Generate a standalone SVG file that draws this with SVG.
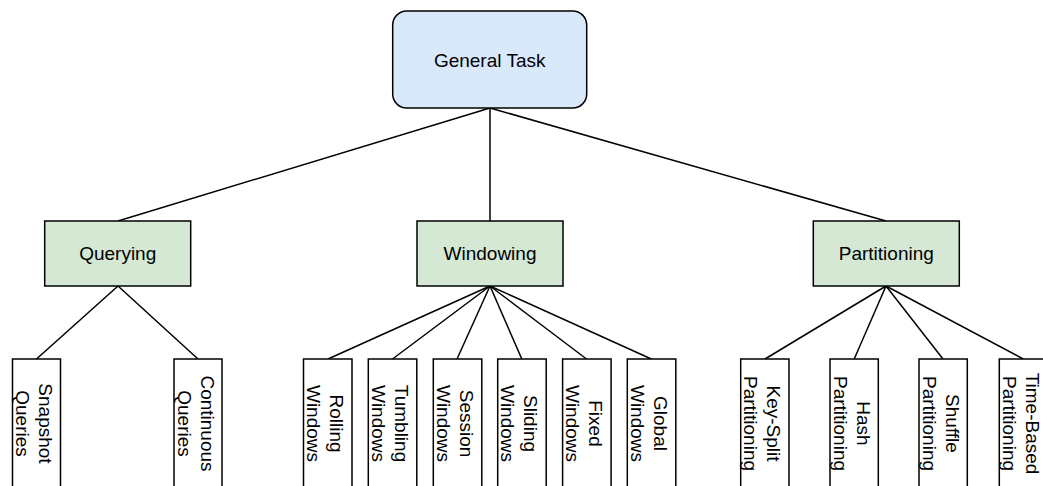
<svg xmlns="http://www.w3.org/2000/svg" width="1043" height="486" viewBox="0 0 1043 486">
  <style>
    text { font-family: "Liberation Sans", Arial, Helvetica, sans-serif; font-size: 19px; fill: #000; text-anchor: middle; }
    .root { fill: #dae8fc; stroke: #000; stroke-width: 1.5; }
    .cat { fill: #d5e8d4; stroke: #000; stroke-width: 1.5; }
    .leaf { fill: #fff; stroke: #000; stroke-width: 1.5; }
    .edge { stroke: #000; stroke-width: 1.5; fill: none; }
  </style>

  <!-- connectors -->
  <g id="connectors">
    <line class="edge" x1="490" y1="108" x2="118" y2="221"/>
    <line class="edge" x1="490" y1="108" x2="490" y2="221"/>
    <line class="edge" x1="490" y1="108" x2="886" y2="221"/>

    <line class="edge" x1="118" y1="286" x2="36.5" y2="359"/>
    <line class="edge" x1="118" y1="286" x2="198" y2="359"/>

    <line class="edge" x1="490" y1="286" x2="328" y2="359"/>
    <line class="edge" x1="490" y1="286" x2="392.5" y2="359"/>
    <line class="edge" x1="490" y1="286" x2="457" y2="359"/>
    <line class="edge" x1="490" y1="286" x2="521.8" y2="359"/>
    <line class="edge" x1="490" y1="286" x2="586.5" y2="359"/>
    <line class="edge" x1="490" y1="286" x2="651.3" y2="359"/>

    <line class="edge" x1="886" y1="286" x2="765" y2="359"/>
    <line class="edge" x1="886" y1="286" x2="854.2" y2="359"/>
    <line class="edge" x1="886" y1="286" x2="943" y2="359"/>
    <line class="edge" x1="886" y1="286" x2="1023.3" y2="359"/>
  </g>

  <!-- root -->
  <g id="general-task">
    <rect class="root" x="392.7" y="11" width="194" height="97" rx="14" ry="14"/>
    <text x="489.7" y="66.5">General Task</text>
  </g>

  <!-- categories -->
  <g id="querying">
    <rect class="cat" x="44.7" y="221" width="146" height="65"/>
    <text x="117.7" y="260">Querying</text>
  </g>
  <g id="windowing">
    <rect class="cat" x="417" y="221" width="146" height="65"/>
    <text x="490" y="260">Windowing</text>
  </g>
  <g id="partitioning">
    <rect class="cat" x="813.3" y="221" width="146" height="65"/>
    <text x="886.3" y="260">Partitioning</text>
  </g>

  <!-- querying leaves -->
  <g id="snapshot-queries">
    <rect class="leaf" x="12.5" y="359" width="48" height="130"/>
    <text transform="translate(36.5 423.5) rotate(90)"><tspan x="0" y="-2.5">Snapshot</tspan><tspan x="0" y="20.5">Queries</tspan></text>
  </g>
  <g id="continuous-queries">
    <rect class="leaf" x="174" y="359" width="48" height="130"/>
    <text transform="translate(198 423.5) rotate(90)"><tspan x="0" y="-2.5">Continuous</tspan><tspan x="0" y="20.5">Queries</tspan></text>
  </g>

  <!-- windowing leaves -->
  <g id="rolling-windows">
    <rect class="leaf" x="303.5" y="359" width="48.5" height="130"/>
    <text transform="translate(327.8 423.5) rotate(90)"><tspan x="0" y="-2.5">Rolling</tspan><tspan x="0" y="20.5">Windows</tspan></text>
  </g>
  <g id="tumbling-windows">
    <rect class="leaf" x="368.3" y="359" width="48.5" height="130"/>
    <text transform="translate(392.5 423.5) rotate(90)"><tspan x="0" y="-2.5">Tumbling</tspan><tspan x="0" y="20.5">Windows</tspan></text>
  </g>
  <g id="session-windows">
    <rect class="leaf" x="433.3" y="359" width="48.5" height="130"/>
    <text transform="translate(457.5 423.5) rotate(90)"><tspan x="0" y="-2.5">Session</tspan><tspan x="0" y="20.5">Windows</tspan></text>
  </g>
  <g id="sliding-windows">
    <rect class="leaf" x="497.7" y="359" width="48.5" height="130"/>
    <text transform="translate(521.9 423.5) rotate(90)"><tspan x="0" y="-2.5">Sliding</tspan><tspan x="0" y="20.5">Windows</tspan></text>
  </g>
  <g id="fixed-windows">
    <rect class="leaf" x="562.6" y="359" width="48.5" height="130"/>
    <text transform="translate(586.8 423.5) rotate(90)"><tspan x="0" y="-2.5">Fixed</tspan><tspan x="0" y="20.5">Windows</tspan></text>
  </g>
  <g id="global-windows">
    <rect class="leaf" x="627.3" y="359" width="48.5" height="130"/>
    <text transform="translate(651.5 423.5) rotate(90)"><tspan x="0" y="-2.5">Global</tspan><tspan x="0" y="20.5">Windows</tspan></text>
  </g>

  <!-- partitioning leaves -->
  <g id="key-split-partitioning">
    <rect class="leaf" x="740.7" y="359" width="48.3" height="130"/>
    <text transform="translate(764.8 423.5) rotate(90)"><tspan x="0" y="-2.5">Key-Split</tspan><tspan x="0" y="20.5">Partitioning</tspan></text>
  </g>
  <g id="hash-partitioning">
    <rect class="leaf" x="830" y="359" width="48.3" height="130"/>
    <text transform="translate(854.2 423.5) rotate(90)"><tspan x="0" y="-2.5">Hash</tspan><tspan x="0" y="20.5">Partitioning</tspan></text>
  </g>
  <g id="shuffle-partitioning">
    <rect class="leaf" x="919" y="359" width="48.3" height="130"/>
    <text transform="translate(943.2 423.5) rotate(90)"><tspan x="0" y="-2.5">Shuffle</tspan><tspan x="0" y="20.5">Partitioning</tspan></text>
  </g>
  <g id="time-based-partitioning">
    <rect class="leaf" x="999.3" y="359" width="48.3" height="130"/>
    <text transform="translate(1023.4 423.5) rotate(90)"><tspan x="0" y="-2.5">Time-Based</tspan><tspan x="0" y="20.5">Partitioning</tspan></text>
  </g>
</svg>
